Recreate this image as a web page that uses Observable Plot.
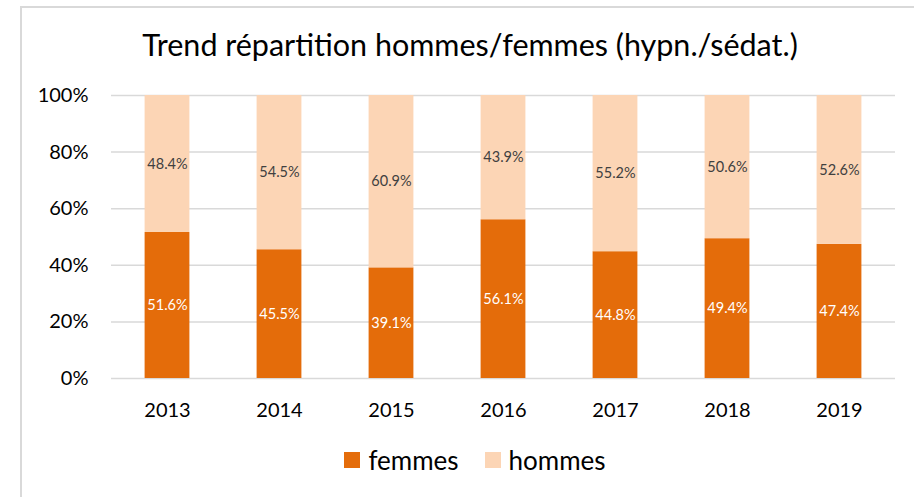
<!DOCTYPE html>
<html>
<head>
<meta charset="utf-8">
<script src="https://cdn.jsdelivr.net/npm/d3@7"></script>
<script src="https://cdn.jsdelivr.net/npm/@observablehq/plot@0.6"></script>
<style>
  html, body { margin: 0; padding: 0; background: #fff; width: 914px; height: 497px; overflow: hidden; font-family: Lato, "Open Sans", sans-serif; }
  #frame { position: absolute; left: 20px; top: 6px; width: 910px; height: 510px; border-left: 2px solid #d9d9d9; border-top: 2px solid #d9d9d9; box-sizing: border-box; }
  #title { position: absolute; left: 0; top: 26px; width: 940px; text-align: center; font-size: 30.5px; line-height: 36px; color: #000; }
  #chart { position: absolute; left: 0; top: 80px; }
  #legend { position: absolute; left: 0; top: 444px; width: 950px; display: flex; justify-content: center; gap: 26px; font-size: 26px; line-height: 32px; color: #000; }
  .item { display: flex; align-items: center; gap: 8px; }
  .sw { width: 16px; height: 16px; display: inline-block; }
</style>
</head>
<body>
<div id="frame"></div>
<div id="title"></div>
<div id="chart"></div>
<div id="legend"></div>
<script>
const titleText = "Trend répartition hommes/femmes (hypn./sédat.)";
const years = ["2013", "2014", "2015", "2016", "2017", "2018", "2019"];
const femmes = [51.6, 45.5, 39.1, 56.1, 44.8, 49.4, 47.4];
const hommes = [48.4, 54.5, 60.9, 43.9, 55.2, 50.6, 52.6];
const series = ["femmes", "hommes"];
const seriesColors = ["#E46C0A", "#FCD5B5"];
const labelColors = ["#ffffff", "#404040"];
const yTicks = [0, 20, 40, 60, 80, 100];

const data = years.flatMap((year, i) => [
  {year, sex: "femmes", value: femmes[i]},
  {year, sex: "hommes", value: hommes[i]}
]);

document.getElementById("title").textContent = titleText;

const stackOpts = {x: "year", y: "value", z: "sex", order: series};

const labelMarks = series.map((s, k) =>
  Plot.text(data, Plot.filter(d => d.sex === s, Plot.stackY({
    ...stackOpts,
    text: d => d.value.toFixed(1) + "%",
    fill: labelColors[k],
    fontSize: 14.5
  })))
);

const chart = Plot.plot({
  width: 914,
  height: 348,
  marginTop: 15,
  marginBottom: 50,
  marginLeft: 111,
  marginRight: 19,
  style: {fontFamily: "Lato, sans-serif", fontSize: "20px", color: "#000", background: "transparent"},
  x: {domain: years, paddingInner: 0.6, paddingOuter: 0.3, align: 0.5, round: false, label: null, tickSize: 0, tickPadding: 24},
  y: {domain: [0, 100], ticks: yTicks, tickFormat: d => d + "%", label: null, tickSize: 0, tickPadding: 23},
  color: {domain: series, range: seriesColors},
  marks: [
    Plot.gridY(yTicks, {stroke: "#d9d9d9", strokeOpacity: 1, strokeWidth: 1.5}),
    Plot.barY(data, {...stackOpts, fill: "sex"}),
    ...labelMarks
  ]
});
document.getElementById("chart").appendChild(chart);

const legend = document.getElementById("legend");
series.forEach((s, k) => {
  const item = document.createElement("div");
  item.className = "item";
  const sw = document.createElement("span");
  sw.className = "sw";
  sw.style.background = seriesColors[k];
  const lab = document.createElement("span");
  lab.textContent = s;
  item.appendChild(sw);
  item.appendChild(lab);
  legend.appendChild(item);
});
</script>
</body>
</html>
